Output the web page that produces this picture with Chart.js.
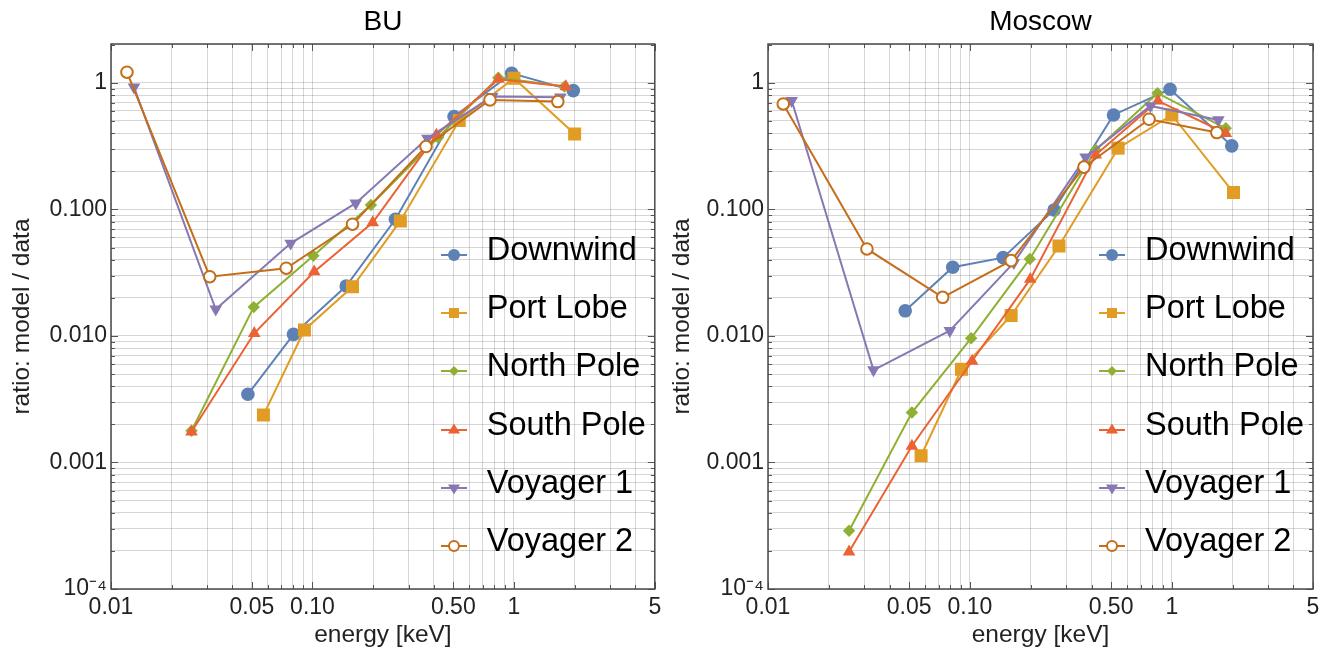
<!DOCTYPE html>
<html><head><meta charset="utf-8">
<script src="https://cdn.jsdelivr.net/npm/chart.js@4.4.0/dist/chart.umd.min.js"></script>
<style>
html,body{margin:0;padding:0;background:#fff;}
#wrap{position:relative;width:1329px;height:661px;overflow:hidden;font-family:'Liberation Sans',Arial,sans-serif;}
canvas{position:absolute;top:0;}
.lg{position:absolute;font-size:32.5px;line-height:32px;color:#000;white-space:nowrap;}
.mk{position:absolute;}
</style></head>
<body><div id="wrap">
<canvas id="c1" width="664" height="661" style="left:0;width:664px;height:661px"></canvas>
<canvas id="c2" width="665" height="661" style="left:664px;width:665px;height:661px"></canvas>
</div>
<script>
// ---------- data ----------
const seriesNames = ['Downwind', 'Port Lobe', 'North Pole', 'South Pole', 'Voyager 1', 'Voyager 2'];

// BU panel
const buDownwindE  = [0.0478, 0.0805, 0.147, 0.258, 0.504, 0.974, 1.97];
const buDownwindR  = [0.00346, 0.0103, 0.0248, 0.0836, 0.542, 1.19, 0.869];
const buPortLobeE  = [0.0571, 0.0912, 0.158, 0.273, 0.535, 1.0, 2.0];
const buPortLobeR  = [0.00237, 0.01115, 0.0245, 0.0811, 0.504, 1.09, 0.395];
const buNorthPoleE = [0.0251, 0.0511, 0.101, 0.195, 0.42, 0.836, 1.78];
const buNorthPoleR = [0.00178, 0.0169, 0.0431, 0.1085, 0.37, 1.1, 0.935];
const buSouthPoleE = [0.0251, 0.0514, 0.102, 0.199, 0.412, 0.836, 1.81];
const buSouthPoleR = [0.00175, 0.0105, 0.0322, 0.0787, 0.388, 1.07, 0.935];
const buVoyager1E  = [0.013, 0.0331, 0.0779, 0.164, 0.372, 0.78, 1.7];
const buVoyager1R  = [0.925, 0.01626, 0.054, 0.112, 0.365, 0.78, 0.77];
const buVoyager2E  = [0.012, 0.0309, 0.0741, 0.158, 0.366, 0.76, 1.65];
const buVoyager2R  = [1.215, 0.0294, 0.0343, 0.0764, 0.314, 0.734, 0.712];

// Moscow panel
const moDownwindE  = [0.0478, 0.0822, 0.146, 0.261, 0.514, 0.98, 1.98];
const moDownwindR  = [0.0158, 0.0349, 0.0416, 0.099, 0.558, 0.892, 0.318];
const moPortLobeE  = [0.0573, 0.0908, 0.160, 0.276, 0.542, 1.0, 2.02];
const moPortLobeR  = [0.00113, 0.00545, 0.0145, 0.0514, 0.305, 0.558, 0.136];
const moNorthPoleE = [0.0252, 0.0516, 0.1014, 0.198, 0.420, 0.849, 1.85];
const moNorthPoleR = [0.000289, 0.00248, 0.0096, 0.0406, 0.295, 0.829, 0.438];
const moSouthPoleE = [0.0252, 0.0516, 0.1025, 0.199, 0.42, 0.853, 1.85];
const moSouthPoleR = [0.000197, 0.00135, 0.00634, 0.0281, 0.27, 0.72, 0.40];
const moVoyager1E  = [0.0131, 0.0333, 0.0795, 0.165, 0.374, 0.783, 1.70];
const moVoyager1R  = [0.725, 0.00538, 0.011, 0.038, 0.259, 0.658, 0.51];
const moVoyager2E  = [0.0119, 0.0309, 0.0733, 0.160, 0.367, 0.771, 1.67];
const moVoyager2R  = [0.682, 0.0487, 0.0202, 0.0394, 0.216, 0.516, 0.405];

// tick labels
const xLabelValues = [0.01, 0.05, 0.1, 0.5, 1, 5];
const xTickLabels  = ['0.01', '0.05', '0.10', '0.50', '1', '5'];
const yLabelValues = [1e-4, 1e-3, 1e-2, 1e-1, 1];
const yTickLabels  = ['10\u207B\u2074', '0.001', '0.010', '0.100', '1'];
const xMin = 0.01, xMax = 5, yMin = 1e-4, yMax = 2.03;

// ---------- styles ----------
const FONT = "'Liberation Sans', Arial, sans-serif";
const colors = ['#5e81b5', '#e19c24', '#8fb032', '#eb6235', '#8778b3', '#c56e1a'];
const markers = [
  {pointStyle: 'circle', radius: 6.8, rotation: 0, open: false},
  {pointStyle: 'rect', radius: 9.2, rotation: 0, open: false},
  {pointStyle: 'rectRot', radius: 6.2, rotation: 0, open: false},
  {pointStyle: 'triangle', radius: 7.3, rotation: 0, open: false},
  {pointStyle: 'triangle', radius: 7.3, rotation: 180, open: false},
  {pointStyle: 'circle', radius: 5.8, rotation: 0, open: true}
];

function gridValues(dMin, dMax, vMax) {
  const out = [];
  for (let d = dMin; d <= dMax; d++) {
    for (let m = 1; m <= 9; m++) {
      const v = Number((m * Math.pow(10, d)).toPrecision(6));
      if (v <= vMax * 1.00001) out.push(v);
    }
  }
  return out;
}
const xGrid = gridValues(-2, 0, xMax);
const yGrid = gridValues(-4, 0, yMax);

function findLabel(v, vals, labels) {
  const i = vals.findIndex(l => Math.abs(Math.log10(l) - Math.log10(v)) < 1e-6);
  return i >= 0 ? labels[i] : '';
}

function makeDatasets(E, R) {
  return E.map((es, i) => ({
    label: seriesNames[i],
    data: es.map((e, j) => ({x: e, y: R[i][j]})),
    borderColor: colors[i],
    borderWidth: 2,
    tension: 0,
    fill: false,
    order: E.length - 1 - i,
    pointStyle: markers[i].pointStyle,
    pointRadius: markers[i].radius,
    pointRotation: markers[i].rotation,
    pointBackgroundColor: markers[i].open ? '#ffffff' : colors[i],
    pointBorderColor: colors[i],
    pointBorderWidth: markers[i].open ? 2 : 0,
    pointHoverRadius: markers[i].radius
  }));
}

const framePlugin = {
  id: 'frame',
  beforeDatasetsDraw(chart) {
    const {ctx, chartArea: a} = chart;
    const xs = chart.scales.x, ys = chart.scales.y;
    ctx.save();
    ctx.strokeStyle = '#555';
    ctx.lineWidth = 1;
    xs.ticks.forEach(t => {
      const p = Math.round(xs.getPixelForValue(t.value)) + 0.5;
      const len = findLabel(t.value, xLabelValues, xTickLabels) ? 7 : 4;
      ctx.beginPath();
      ctx.moveTo(p, a.bottom); ctx.lineTo(p, a.bottom - len);
      ctx.moveTo(p, a.top); ctx.lineTo(p, a.top + len);
      ctx.stroke();
    });
    ys.ticks.forEach(t => {
      const p = Math.round(ys.getPixelForValue(t.value)) + 0.5;
      const len = findLabel(t.value, yLabelValues, yTickLabels) ? 7 : 4;
      ctx.beginPath();
      ctx.moveTo(a.left, p); ctx.lineTo(a.left + len, p);
      ctx.moveTo(a.right, p); ctx.lineTo(a.right - len, p);
      ctx.stroke();
    });
    ctx.strokeStyle = '#4a4a4a';
    ctx.lineWidth = 1.5;
    ctx.strokeRect(a.left, a.top, a.right - a.left, a.bottom - a.top);
    ctx.restore();
  }
};

function makeChart(id, title, E, R, yWidth, yTitlePad, padRight) {
  return new Chart(document.getElementById(id), {
    type: 'line',
    data: {datasets: makeDatasets(E, R)},
    plugins: [framePlugin],
    options: {
      responsive: false,
      animation: false,
      devicePixelRatio: 1,
      layout: {padding: {left: 0, right: padRight, top: 0, bottom: 0}},
      plugins: {
        legend: {display: false},
        tooltip: {enabled: false},
        title: {
          display: true, text: title, color: '#000', fullSize: false,
          font: {family: FONT, size: 28, weight: 'normal', lineHeight: 1},
          padding: {top: 8, bottom: 8}
        }
      },
      scales: {
        x: {
          type: 'logarithmic', position: 'bottom', min: xMin, max: xMax,
          afterBuildTicks: s => { s.ticks = xGrid.map(v => ({value: v})); },
          afterFit: s => { s.height = 72; },
          ticks: {
            autoSkip: false, maxRotation: 0, minRotation: 0, padding: 1, color: '#222',
            font: {family: FONT, size: 23, lineHeight: 1.5},
            callback: v => findLabel(v, xLabelValues, xTickLabels)
          },
          grid: {color: 'rgba(0,0,0,0.16)', lineWidth: 1, drawTicks: false},
          border: {display: false},
          title: {
            display: true, text: 'energy [keV]', color: '#222',
            font: {family: FONT, size: 24.5}, padding: {top: 0, bottom: 11}
          }
        },
        y: {
          type: 'logarithmic', position: 'left', min: yMin, max: yMax,
          afterBuildTicks: s => { s.ticks = yGrid.map(v => ({value: v})); },
          afterFit: s => { s.width = yWidth; },
          ticks: {
            autoSkip: false, padding: 4, color: '#222',
            font: {family: FONT, size: 23},
            callback: v => findLabel(v, yLabelValues, yTickLabels)
          },
          grid: {color: 'rgba(0,0,0,0.16)', lineWidth: 1, drawTicks: false},
          border: {display: false},
          title: {
            display: true, text: 'ratio: model / data', color: '#222',
            font: {family: FONT, size: 24.5}, padding: {top: yTitlePad, bottom: 0}
          }
        }
      }
    }
  });
}

const chartBU = makeChart('c1', 'BU',
  [buDownwindE, buPortLobeE, buNorthPoleE, buSouthPoleE, buVoyager1E, buVoyager2E],
  [buDownwindR, buPortLobeR, buNorthPoleR, buSouthPoleR, buVoyager1R, buVoyager2R],
  111, 8, 8);
const chartMO = makeChart('c2', 'Moscow',
  [moDownwindE, moPortLobeE, moNorthPoleE, moSouthPoleE, moVoyager1E, moVoyager2E],
  [moDownwindR, moPortLobeR, moNorthPoleR, moSouthPoleR, moVoyager1R, moVoyager2R],
  104, 3.2, 16);

// ---------- HTML legend ----------
function markerSVG(i) {
  const c = colors[i];
  let shape = '';
  switch (i) {
    case 0: shape = `<circle cx="15" cy="10" r="6" fill="${c}"/>`; break;
    case 1: shape = `<rect x="10" y="5" width="10" height="10" fill="${c}"/>`; break;
    case 2: shape = `<polygon points="15,5 20,10 15,15 10,10" fill="${c}"/>`; break;
    case 3: shape = `<polygon points="15,3.5 21,13.5 9,13.5" fill="${c}"/>`; break;
    case 4: shape = `<polygon points="15,16.5 21,6.5 9,6.5" fill="${c}"/>`; break;
    case 5: shape = `<circle cx="15" cy="10" r="5" fill="#fff" stroke="${c}" stroke-width="2"/>`; break;
  }
  return `<svg width="30" height="20" xmlns="http://www.w3.org/2000/svg"><line x1="2" y1="10" x2="28" y2="10" stroke="${c}" stroke-width="2"/>${shape}</svg>`;
}

function addLegend(chart, offsetLeft) {
  const wrap = document.getElementById('wrap');
  const right = chart.chartArea.right + offsetLeft;
  seriesNames.forEach((name, i) => {
    const capCenter = 248.5 + i * 58.2;
    const t = document.createElement('div');
    t.className = 'lg';
    t.textContent = name;
    t.style.left = (right - 168) + 'px';
    t.style.top = (capCenter - 15.6) + 'px';
    wrap.appendChild(t);
    const m = document.createElement('div');
    m.className = 'mk';
    m.innerHTML = markerSVG(i);
    m.style.left = (right - 216) + 'px';
    m.style.top = (capCenter + 6.5 - 10) + 'px';
    m.style.width = '30px'; m.style.height = '20px';
    wrap.appendChild(m);
  });
}
addLegend(chartBU, 0);
addLegend(chartMO, 664);
</script>
</body></html>
